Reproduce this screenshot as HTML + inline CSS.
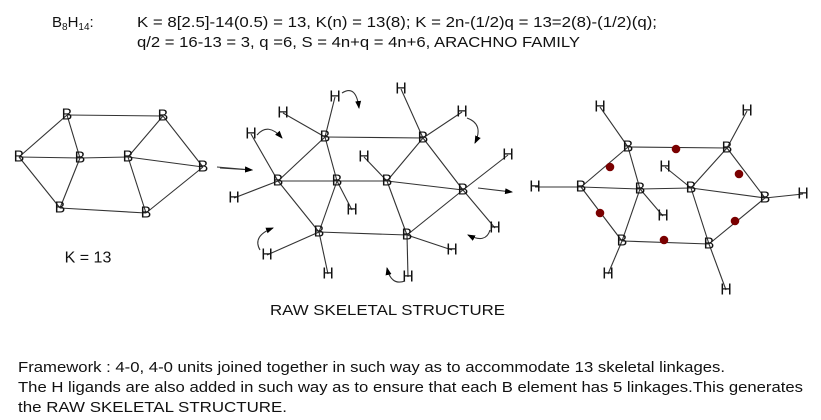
<!DOCTYPE html>
<html><head><meta charset="utf-8"><style>
html,body{margin:0;padding:0;background:#fff}
svg{display:block}
text{font-family:"Liberation Sans",Arial,sans-serif;fill:#111}
.l{font-size:16px;text-anchor:middle;dominant-baseline:central}
line,path{stroke:#333;stroke-width:1.1;fill:none}
</style></head><body>
<svg width="821" height="420" viewBox="0 0 821 420" xmlns="http://www.w3.org/2000/svg">
<defs><marker id="a" markerWidth="8" markerHeight="8" refX="7" refY="4" orient="auto" markerUnits="userSpaceOnUse"><path d="M0,1 L8,4 L0,7 z" style="fill:#000;stroke:none"/></marker></defs>

<text x="52" y="27" style="font-size:15px">B<tspan style="font-size:10px" dy="3">8</tspan><tspan dy="-3">H</tspan><tspan style="font-size:10px" dy="3">14</tspan><tspan dy="-3">:</tspan></text>
<text x="137" y="27" style="font-size:15px" textLength="520" lengthAdjust="spacingAndGlyphs">K = 8[2.5]-14(0.5) = 13, K(n) = 13(8); K = 2n-(1/2)q = 13=2(8)-(1/2)(q);</text>
<text x="137" y="47" style="font-size:15px" textLength="443" lengthAdjust="spacingAndGlyphs">q/2 = 16-13 = 3, q =6, S = 4n+q = 4n+6, ARACHNO FAMILY</text>

<g>
<line x1="67" y1="115" x2="163" y2="116"/><line x1="67" y1="115" x2="19" y2="157"/><line x1="67" y1="115" x2="80" y2="158"/>
<line x1="19" y1="157" x2="80" y2="158"/><line x1="80" y1="158" x2="128" y2="157"/><line x1="128" y1="157" x2="203" y2="167"/>
<line x1="163" y1="116" x2="128" y2="157"/><line x1="163" y1="116" x2="203" y2="167"/><line x1="19" y1="157" x2="60" y2="208"/>
<line x1="80" y1="158" x2="60" y2="208"/><line x1="60" y1="208" x2="146" y2="213"/><line x1="128" y1="157" x2="146" y2="213"/>
<line x1="146" y1="213" x2="203" y2="167"/>
<line x1="217" y1="167" x2="252" y2="170" marker-end="url(#a)"/>
</g>
<g>
<text class="l" x="67" y="115">B</text><text class="l" x="163" y="116">B</text><text class="l" x="19" y="157">B</text><text class="l" x="80" y="158">B</text>
<text class="l" x="128" y="157">B</text><text class="l" x="203" y="167">B</text><text class="l" x="60" y="208">B</text><text class="l" x="146" y="213">B</text>
</g>
<text class="l" x="88" y="258">K = 13</text>

<g>
<line x1="325" y1="137" x2="423" y2="138"/><line x1="325" y1="137" x2="278" y2="181"/><line x1="325" y1="137" x2="337" y2="181"/>
<line x1="278" y1="181" x2="337" y2="181"/><line x1="337" y1="181" x2="387" y2="181"/><line x1="387" y1="181" x2="463" y2="190"/>
<line x1="423" y1="138" x2="387" y2="181"/><line x1="423" y1="138" x2="463" y2="190"/><line x1="278" y1="181" x2="319" y2="232"/>
<line x1="337" y1="181" x2="319" y2="232"/><line x1="319" y1="232" x2="407" y2="235"/><line x1="387" y1="181" x2="407" y2="235"/>
<line x1="407" y1="235" x2="463" y2="190"/>
<line x1="335" y1="97" x2="325" y2="137"/><line x1="283" y1="113" x2="325" y2="137"/><line x1="251" y1="134" x2="278" y2="181"/>
<line x1="401" y1="89" x2="423" y2="138"/><line x1="462" y1="112" x2="423" y2="138"/><line x1="508" y1="155" x2="463" y2="190"/>
<line x1="364" y1="157" x2="387" y2="181"/><line x1="234" y1="198" x2="278" y2="181"/><line x1="352" y1="210" x2="337" y2="181"/>
<line x1="495" y1="228" x2="463" y2="190"/><line x1="267" y1="255" x2="319" y2="232"/><line x1="452" y1="250" x2="407" y2="235"/>
<line x1="328" y1="274" x2="319" y2="232"/><line x1="408" y1="277" x2="407" y2="235"/>
<line x1="220" y1="168" x2="252" y2="170" marker-end="url(#a)"/>
<line x1="478" y1="188" x2="512" y2="192" marker-end="url(#a)"/>
<path d="M342,93 Q356,84 359,108" marker-end="url(#a)"/>
<path d="M257,135 Q268,122 282,138" marker-end="url(#a)"/>
<path d="M467,118 Q484,124 475,143" marker-end="url(#a)"/>
<path d="M260,250 Q252,236 273,228" marker-end="url(#a)"/>
<path d="M490,230 Q486,244 468,235" marker-end="url(#a)"/>
<path d="M405,281 Q391,286 387,268" marker-end="url(#a)"/>
</g>
<g>
<text class="l" x="325" y="137">B</text><text class="l" x="423" y="138">B</text><text class="l" x="278" y="181">B</text><text class="l" x="337" y="181">B</text>
<text class="l" x="387" y="181">B</text><text class="l" x="463" y="190">B</text><text class="l" x="319" y="232">B</text><text class="l" x="407" y="235">B</text>
<text class="l" x="335" y="97">H</text><text class="l" x="283" y="113">H</text><text class="l" x="251" y="134">H</text><text class="l" x="401" y="89">H</text>
<text class="l" x="462" y="112">H</text><text class="l" x="508" y="155">H</text><text class="l" x="364" y="157">H</text><text class="l" x="234" y="198">H</text>
<text class="l" x="352" y="210">H</text><text class="l" x="495" y="228">H</text><text class="l" x="267" y="255">H</text><text class="l" x="452" y="250">H</text>
<text class="l" x="328" y="274">H</text><text class="l" x="408" y="277">H</text>
</g>
<text x="270" y="315" style="font-size:15px" textLength="235" lengthAdjust="spacingAndGlyphs">RAW SKELETAL STRUCTURE</text>

<g>
<line x1="628" y1="147" x2="727" y2="148"/><line x1="628" y1="147" x2="581" y2="187"/><line x1="628" y1="147" x2="640" y2="189"/>
<line x1="581" y1="187" x2="640" y2="189"/><line x1="640" y1="189" x2="691" y2="188"/><line x1="691" y1="188" x2="765" y2="198"/>
<line x1="727" y1="148" x2="691" y2="188"/><line x1="727" y1="148" x2="765" y2="198"/><line x1="581" y1="187" x2="622" y2="241"/>
<line x1="640" y1="189" x2="622" y2="241"/><line x1="622" y1="241" x2="709" y2="244"/><line x1="691" y1="188" x2="709" y2="244"/>
<line x1="709" y1="244" x2="765" y2="198"/>
<line x1="600" y1="107" x2="628" y2="147"/><line x1="747" y1="111" x2="727" y2="148"/><line x1="535" y1="187" x2="581" y2="187"/>
<line x1="665" y1="167" x2="691" y2="188"/><line x1="663" y1="216" x2="640" y2="189"/><line x1="803" y1="194" x2="765" y2="198"/>
<line x1="608" y1="274" x2="622" y2="241"/><line x1="726" y1="290" x2="709" y2="244"/>
</g>
<g>
<circle cx="676" cy="149" r="4.3" fill="#7a0000"/><circle cx="610" cy="167" r="4.3" fill="#7a0000"/><circle cx="739" cy="174" r="4.3" fill="#7a0000"/>
<circle cx="600" cy="213" r="4.3" fill="#7a0000"/><circle cx="735" cy="221" r="4.3" fill="#7a0000"/><circle cx="664" cy="240" r="4.3" fill="#7a0000"/>
</g>
<g>
<text class="l" x="628" y="147">B</text><text class="l" x="727" y="148">B</text><text class="l" x="581" y="187">B</text><text class="l" x="640" y="189">B</text>
<text class="l" x="691" y="188">B</text><text class="l" x="765" y="198">B</text><text class="l" x="622" y="241">B</text><text class="l" x="709" y="244">B</text>
<text class="l" x="600" y="107">H</text><text class="l" x="747" y="111">H</text><text class="l" x="535" y="187">H</text><text class="l" x="665" y="167">H</text>
<text class="l" x="663" y="216">H</text><text class="l" x="803" y="194">H</text><text class="l" x="608" y="274">H</text><text class="l" x="726" y="290">H</text>
</g>

<text x="18" y="372" style="font-size:15px" textLength="707" lengthAdjust="spacingAndGlyphs">Framework : 4-0, 4-0 units joined together in such way as to accommodate 13 skeletal linkages.</text>
<text x="18" y="392" style="font-size:15px" textLength="785" lengthAdjust="spacingAndGlyphs">The H ligands are also added in such way as to ensure that each B element has 5 linkages.This generates</text>
<text x="18" y="412" style="font-size:15px" textLength="269" lengthAdjust="spacingAndGlyphs">the RAW SKELETAL STRUCTURE.</text>
</svg>
</body></html>
